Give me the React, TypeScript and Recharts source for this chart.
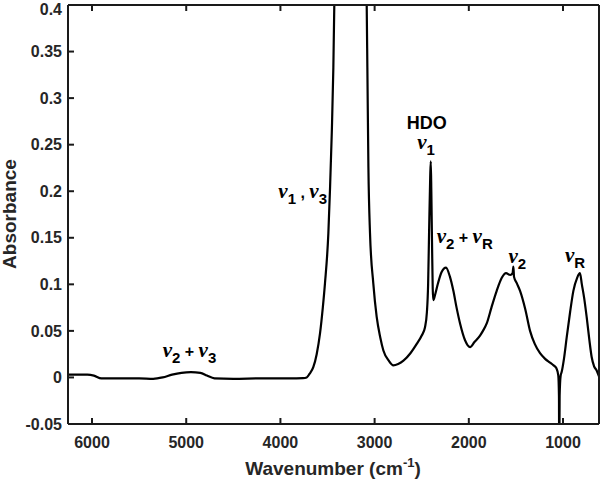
import React from 'react';
import { LineChart, Line, XAxis, YAxis, ReferenceDot } from 'recharts';

// IR spectrum
const wavenumber = [
    6255, 6150, 6050, 5980, 5900, 5700, 5500, 5350, 5250, 5150, 5050, 4950, 4850, 4780, 4700, 4500, 4200, 3900,
    3760, 3721, 3690, 3651, 3615, 3580, 3550, 3527, 3491, 3473, 3455, 3438, 3428, 3410, 3250, 3090, 3084, 3077,
    3066, 3049, 3014, 2978, 2940, 2907, 2850, 2801, 2750, 2694, 2620, 2553, 2500, 2465, 2445, 2432, 2422, 2410,
    2404, 2398, 2390, 2383, 2377, 2360, 2330, 2290, 2242, 2200, 2164, 2130, 2093, 2040, 1987, 1940, 1881, 1850,
    1810, 1760, 1704, 1650, 1605, 1560, 1535, 1527, 1520, 1490, 1456, 1400, 1350, 1300, 1244, 1190, 1138, 1100,
    1070, 1050, 1043, 1040, 1036, 1025, 1014, 990, 961, 925, 890, 850, 820, 800, 775, 749, 720, 696, 670, 643, 618,
];
const absorbance = [
    0.003, 0.003, 0.003, 0.002, -0.001, -0.001, -0.001, -0.0015, 0.0, 0.003, 0.005, 0.0057, 0.005, 0.002, -0.001,
    -0.0015, -0.001, -0.001, -0.0007, 0.0, 0.004, 0.011, 0.025, 0.047, 0.075, 0.101, 0.155, 0.204, 0.262, 0.333,
    0.4, 0.55, 0.9, 0.45, 0.4, 0.333, 0.226, 0.155, 0.101, 0.065, 0.043, 0.029, 0.018, 0.013, 0.0145, 0.018, 0.026,
    0.036, 0.045, 0.054, 0.07, 0.1, 0.155, 0.215, 0.232, 0.2, 0.14, 0.095, 0.083, 0.088, 0.1, 0.113, 0.118, 0.108,
    0.093, 0.075, 0.058, 0.04, 0.0326, 0.038, 0.045, 0.05, 0.058, 0.075, 0.093, 0.107, 0.112, 0.11, 0.112, 0.119,
    0.108, 0.101, 0.093, 0.073, 0.05, 0.036, 0.026, 0.02, 0.016, 0.013, 0.01, 0.002, -0.02, -0.1, -0.02, 0.002,
    0.006, 0.02, 0.043, 0.07, 0.093, 0.107, 0.112, 0.1, 0.085, 0.065, 0.04, 0.022, 0.012, 0.0075, 0.001,
];

const xDomain: [number, number] = [618, 6255];
const yDomain: [number, number] = [-0.05, 0.4];
const xTicks = [1000, 2000, 3000, 4000, 5000, 6000];
const yTicks = [-0.05, 0, 0.05, 0.1, 0.15, 0.2, 0.25, 0.3, 0.35, 0.4];

// band labels: anchor (left edge, baseline) in data units; parts are nu / sub / txt
const labelX = [5250, 4022, 2659, 2547, 2341, 1580, 979];
const labelY = [0.0215, 0.193, 0.2665, 0.245, 0.144, 0.1225, 0.1235];
const labelParts: Array<Array<[string, string]>> = [
    [['nu', ''], ['sub', '2'], ['txt', ' + '], ['nu', ''], ['sub', '3']],
    [['nu', ''], ['sub', '1'], ['txt', ' , '], ['nu', ''], ['sub', '3']],
    [['big', 'HDO']],
    [['nu', ''], ['sub', '1']],
    [['nu', ''], ['sub', '2'], ['txt', ' + '], ['nu', ''], ['sub', 'R']],
    [['nu', ''], ['sub', '2']],
    [['nu', ''], ['sub', 'R']],
];

const data = wavenumber.map((w, i) => ({ w, a: absorbance[i] }));

const SANS = '"Liberation Sans", Arial, Helvetica, sans-serif';
const AXIS = '#262626';
const FRAME = '#1a1a1a';
const tickFont = { fill: AXIS, fontSize: 16, fontWeight: 'bold', fontFamily: SANS };

function BandLabel({ cx, cy, parts }: { cx: number; cy: number; parts: Array<[string, string]> }) {
    let shift = 0;
    const spans = parts.map(([kind, txt], i) => {
        if (kind === 'nu') {
            const dy = -shift;
            shift = 0;
            return (
                <tspan key={i} dy={dy} fontFamily='"Liberation Serif", serif' fontStyle="italic" fontSize={21}>
                    ν
                </tspan>
            );
        }
        if (kind === 'sub') {
            shift = 6;
            return (
                <tspan key={i} dy={6} fontSize={15}>
                    {txt}
                </tspan>
            );
        }
        const dy = -shift;
        shift = 0;
        return (
            <tspan key={i} dy={dy} fontSize={kind === 'big' ? 18 : 16} style={{ whiteSpace: 'pre' }}>
                {txt}
            </tspan>
        );
    });
    return (
        <text x={cx} y={cy} fontFamily={SANS} fontWeight="bold" fill="#000" xmlSpace="preserve">
            {spans}
        </text>
    );
}

export default function App() {
    return (
        <div style={{ position: 'absolute', left: 0, top: 0, width: 601, height: 482 }}>
            <LineChart width={601} height={482} data={data} margin={{ top: 4, right: 1, left: 0, bottom: 0 }}>
                {/* negative tickSize puts the ticks inside the box, like MATLAB */}
                <XAxis
                    dataKey="w"
                    type="number"
                    domain={xDomain}
                    reversed
                    ticks={xTicks}
                    height={58}
                    tickSize={-6}
                    tickMargin={19}
                    stroke={FRAME}
                    strokeWidth={2}
                    tick={tickFont}
                />
                <XAxis
                    xAxisId="top"
                    orientation="top"
                    dataKey="w"
                    type="number"
                    domain={xDomain}
                    reversed
                    ticks={xTicks}
                    height={1}
                    tickSize={-6}
                    stroke={FRAME}
                    strokeWidth={2}
                    tickFormatter={() => ''}
                />
                <YAxis
                    type="number"
                    domain={yDomain}
                    allowDataOverflow
                    ticks={yTicks}
                    width={68}
                    tickSize={-6}
                    tickMargin={12}
                    stroke={FRAME}
                    strokeWidth={2}
                    tick={tickFont}
                />
                <YAxis
                    yAxisId="right"
                    orientation="right"
                    type="number"
                    domain={yDomain}
                    ticks={yTicks}
                    width={1}
                    tickSize={-6}
                    stroke={FRAME}
                    strokeWidth={2}
                    tickFormatter={() => ''}
                />
                <Line
                    type="monotone"
                    dataKey="a"
                    stroke="#000"
                    strokeWidth={2.2}
                    dot={false}
                    isAnimationActive={false}
                />
                {labelParts.map((parts, i) => (
                    <ReferenceDot
                        key={i}
                        x={labelX[i]}
                        y={labelY[i]}
                        r={0}
                        shape={(p: any) => <BandLabel cx={p.cx} cy={p.cy} parts={parts} />}
                    />
                ))}
            </LineChart>
            {/* axis titles */}
            <svg
                width={601}
                height={482}
                style={{ position: 'absolute', left: 0, top: 0, pointerEvents: 'none' }}
            >
                <text x={333} y={475} textAnchor="middle" fontFamily={SANS} fontWeight="bold" fontSize={19} fill={AXIS}>
                    Wavenumber (cm
                    <tspan dy={-8} fontSize={13}>
                        -1
                    </tspan>
                    <tspan dy={8}>)</tspan>
                </text>
                <text
                    x={16}
                    y={214}
                    transform="rotate(-90 16 214)"
                    textAnchor="middle"
                    fontFamily={SANS}
                    fontWeight="bold"
                    fontSize={19}
                    fill={AXIS}
                >
                    Absorbance
                </text>
            </svg>
        </div>
    );
}
